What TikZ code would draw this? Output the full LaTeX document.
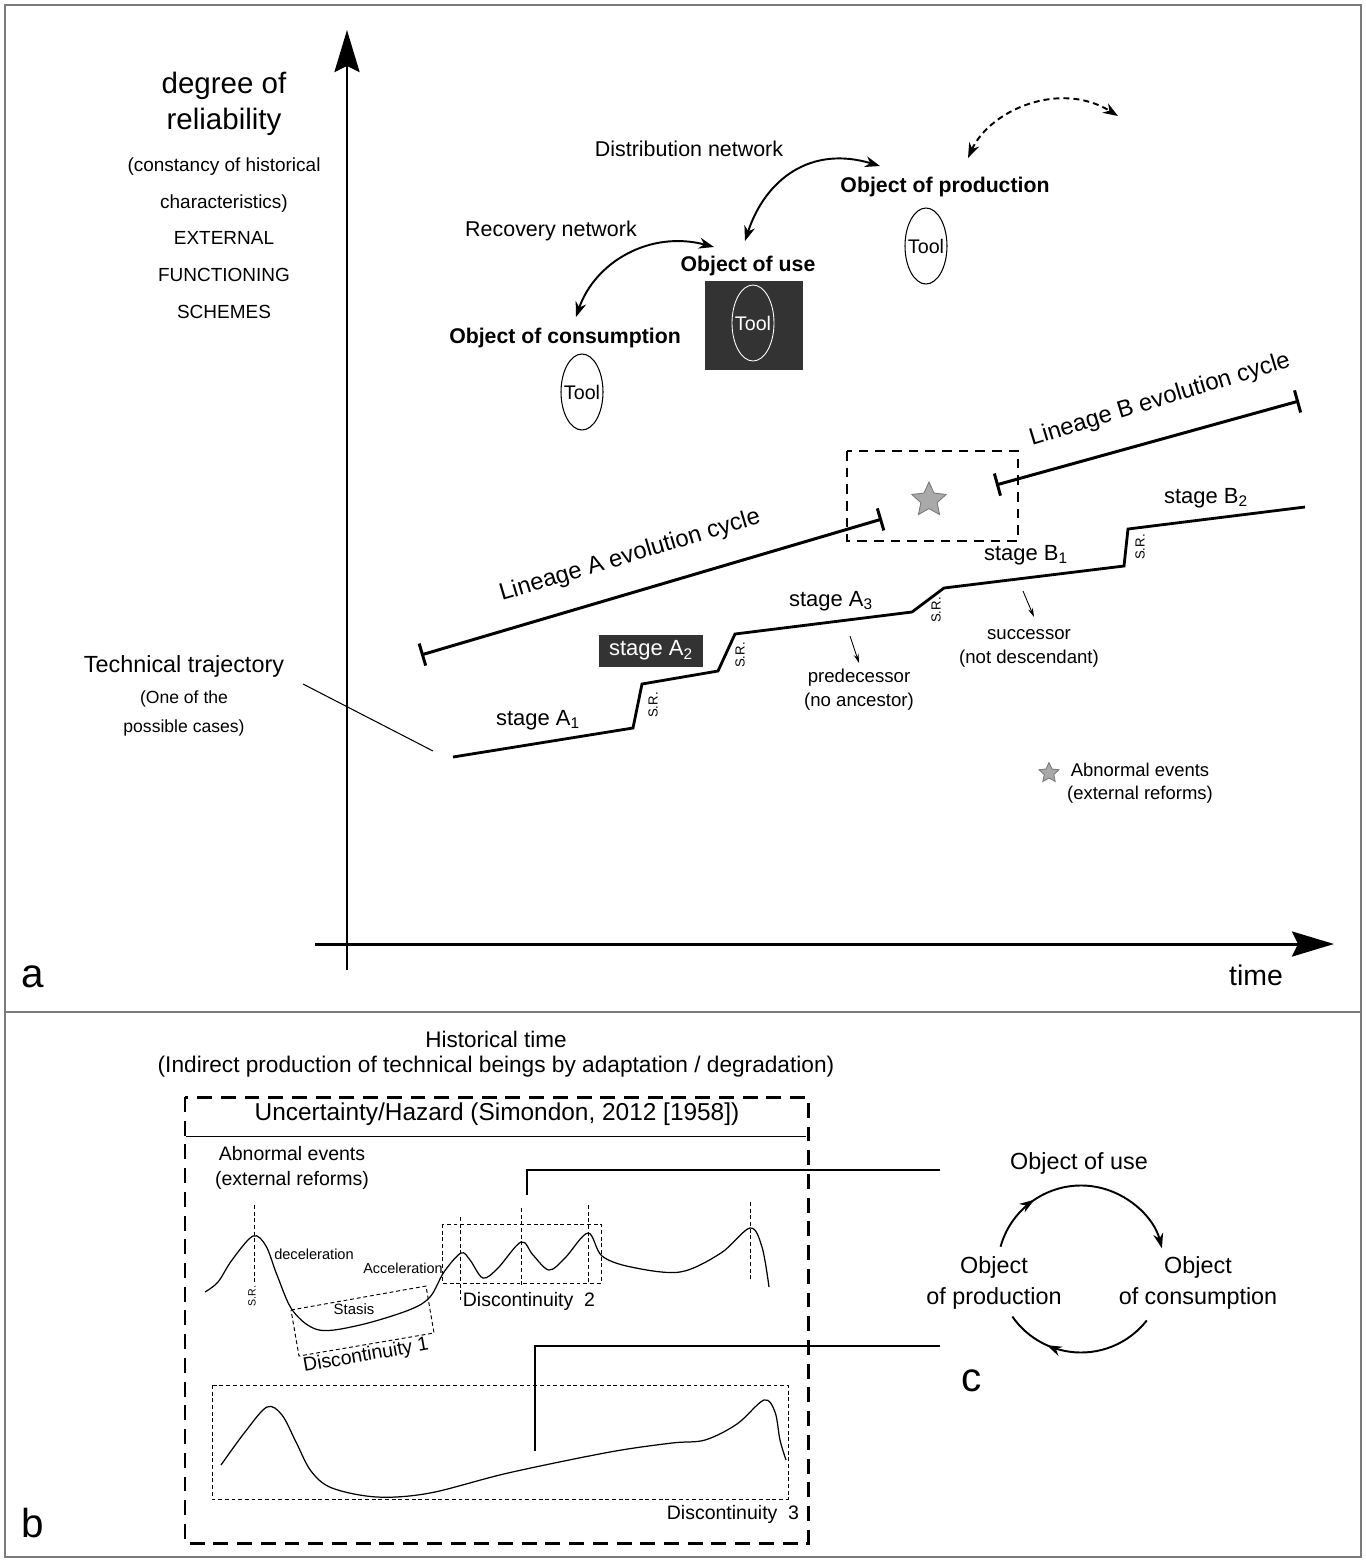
\documentclass[tikz,border=0pt]{standalone}
\usepackage{fontspec}
\setmainfont{Liberation Sans}
\usetikzlibrary{arrows.meta,shapes.geometric,decorations.markings,calc}
\definecolor{boxdark}{HTML}{333333}
\definecolor{framegray}{HTML}{7A7A7A}
\definecolor{starfill}{HTML}{A9A9A9}
\definecolor{starline}{HTML}{7A7A7A}
\newcommand{\fsz}[2]{\fontsize{#1}{#2}\selectfont}
\begin{document}
\begin{tikzpicture}[x=0.02cm, y=-0.02cm,
  txt/.style={inner sep=0pt, align=center},
  boldtxt/.style={txt, font=\fsz{12.1pt}{14pt}\bfseries},
  nettxt/.style={txt, font=\fsz{12.2pt}{14pt}},
  tool/.style={ellipse, draw, line width=0.6pt, minimum width=0.84cm, minimum height=1.52cm, inner sep=0pt, font=\fsz{11.2pt}{13pt}},
  axis/.style={line width=1.7pt, -{Stealth[length=0.84cm, width=0.5cm, inset=0.12cm]}},
  netarrow/.style={line width=1.1pt, {Stealth[length=0.3cm,width=0.22cm]}-{Stealth[length=0.3cm,width=0.22cm]}},
  traj/.style={line width=1.6pt, line join=miter},
  lineage/.style={line width=1.7pt, {Bar[width=0.46cm]}-{Bar[width=0.46cm]}},
  lintxt/.style={txt, font=\fsz{13.6pt}{16pt}},
  srlabel/.style={txt, rotate=90, font=\fsz{7.5pt}{9pt}},
  stagelbl/.style={txt, font=\fsz{12.5pt}{15pt}},
  smalltxt/.style={txt, font=\fsz{10.6pt}{13.6pt}},
  thinarrow/.style={line width=0.5pt, -{Stealth[length=0.18cm,width=0.1cm]}},
  evstar/.style={star, star points=5, star point ratio=2.1, draw=starline, fill=starfill, line width=0.5pt, inner sep=0pt, minimum size=0.72cm},
  curve/.style={line width=0.7pt},
  finedash/.style={line width=0.55pt, dash pattern=on 2.2pt off 1.6pt},
  bigdash/.style={line width=1.7pt, dash pattern=on 8.5pt off 5pt},
  cyc/.style={line width=1.1pt},
  cyctxt/.style={txt, font=\fsz{13.3pt}{17.6pt}},
  paneltxt/.style={txt, font=\fsz{23pt}{26pt}},
]
\useasboundingbox (0,0) rectangle (1366,1563);
% frame
\draw[framegray, line width=1.1pt] (5,5) rectangle (1361,1557);
\draw[framegray, line width=1.1pt] (5,1012) -- (1361,1012);

% ================= panel a =================
\coordinate (yb) at (347,970);
\coordinate (yt) at (347,30);
\coordinate (xl) at (315,944);
\coordinate (xr) at (1334,944);
\draw[axis] (yb) -- (yt);
\draw[axis] (xl) -- (xr);
\node[txt, font=\fsz{16.2pt}{19pt}] (time) at (1256,975) {time};
\node[paneltxt] (pa) at (33,977) {a};

\node[txt, font=\fsz{16.8pt}{20.5pt}] (deg) at (224,104) {degree of\\reliability};
\node[txt, font=\fsz{10.8pt}{20.9pt}] (const) at (224,238) {(constancy of historical\\characteristics)\\EXTERNAL\\FUNCTIONING\\SCHEMES};

% objects
\node[nettxt] (distnet) at (689,149) {Distribution network};
\node[boldtxt] (prod) at (945,187) {Object of production};
\node[tool] (toolP) at (926,246) {\makebox[0pt]{Tool}};
\node[nettxt] (recnet) at (551,231) {Recovery network};
\node[boldtxt] (use) at (748,266) {Object of use};
\node[fill=boxdark, minimum width=1.96cm, minimum height=1.78cm, inner sep=0pt] (usebox) at (754,325.5) {};
\node[tool, draw=white, text=white, line width=0.5pt] (toolU) at (753,323) {\makebox[0pt]{Tool}};
\node[boldtxt] (cons) at (565,338) {Object of consumption};
\node[tool] (toolC) at (582,392) {\makebox[0pt]{Tool}};

\coordinate (dn1) at (745,241);
\coordinate (dn2) at (880,166);
\draw[netarrow] (dn1) .. controls (765,180) and (810,145) .. (dn2);
\coordinate (rn1) at (576,317);
\coordinate (rn2) at (714,247);
\draw[netarrow] (rn1) .. controls (595,262) and (650,230) .. (rn2);
\coordinate (ds1) at (968,158);
\coordinate (ds2) at (1118,116);
\draw[netarrow, dash pattern=on 3.4pt off 2.3pt] (ds1) .. controls (990,110) and (1060,80) .. (ds2);

% lineages
\coordinate (la1) at (421,655);
\coordinate (la2) at (882,519);
\draw[lineage] (la1) -- (la2);
\node[lintxt, rotate=16.7] (linA) at (630,556) {Lineage A evolution cycle};
\coordinate (lb1) at (996,485);
\coordinate (lb2) at (1299,401);
\draw[lineage] (lb1) -- (lb2);
\node[lintxt, rotate=17] (linB) at (1160,400) {Lineage B evolution cycle};

\draw[line width=1.4pt, dash pattern=on 5.5pt off 4pt] (847,451) rectangle (1018,541);
\node[evstar] (star) at (929,500) {};

% trajectory
\draw[traj] (453,757) -- (633,728) -- (642,684) -- (718,671) -- (735,634) -- (912,612) -- (944,588) -- (1124,566) -- (1128,529) -- (1305,507);

\node[stagelbl] (sA1) at (538,720) {stage A\textsubscript{1}};
\node[srlabel] (sr1) at (653,705) {S.R.};
\node[stagelbl, fill=boxdark, text=white, minimum width=2.1cm, minimum height=0.64cm] (sA2) at (651,650.5) {stage A\textsubscript{2}};
\node[srlabel] (sr2) at (740,655) {S.R.};
\node[stagelbl] (sA3) at (831,601) {stage A\textsubscript{3}};
\node[srlabel] (sr3) at (936,610) {S.R.};
\node[stagelbl] (sB1) at (1026,555) {stage B\textsubscript{1}};
\node[srlabel] (sr4) at (1140,547) {S.R.};
\node[stagelbl] (sB2) at (1206,498) {stage B\textsubscript{2}};

\coordinate (pr1) at (850,636);
\coordinate (pr2) at (859,663);
\draw[thinarrow] (pr1) -- (pr2);
\node[smalltxt] (pred) at (859,690) {predecessor\\(no ancestor)};
\coordinate (su1) at (1023,591);
\coordinate (su2) at (1034,617);
\draw[thinarrow] (su1) -- (su2);
\node[smalltxt] (succ) at (1029,648) {successor\\(not descendant)};

\node[txt, font=\fsz{13.3pt}{16pt}] (techtraj) at (184,666) {Technical trajectory};
\node[txt, font=\fsz{10pt}{16.5pt}] (onecase) at (184,713) {(One of the\\possible cases)};
\coordinate (tp1) at (303,684);
\coordinate (tp2) at (433,751);
\draw[line width=0.6pt] (tp1) -- (tp2);

\node[evstar, minimum size=0.42cm] (legstar) at (1049,773) {};
\node[txt, font=\fsz{10.5pt}{13pt}] (legtxt) at (1140,783) {Abnormal events\\(external reforms)};

% ================= panel b =================
\node[txt, font=\fsz{12.8pt}{15pt}] (histtime) at (496,1039) {Historical time};
\node[txt, font=\fsz{12.9pt}{15pt}] (indirect) at (496,1067) {(Indirect production of technical beings by adaptation / degradation)};
\draw[bigdash] (185,1097) rectangle (808,1543);
\node[txt, font=\fsz{13.9pt}{16pt}] (unc) at (497,1114) {Uncertainty/Hazard (Simondon, 2012 [1958])};
\coordinate (ul1) at (186,1136.5);
\coordinate (ul2) at (806,1136.5);
\draw[line width=0.8pt] (ul1) -- (ul2);
\node[txt, font=\fsz{11.1pt}{13.8pt}] (abn) at (292,1168) {Abnormal events\\(external reforms)};

% curve 1
\draw[curve] plot[smooth, tension=0.55] coordinates {(205,1292) (218,1282) (232,1260) (253,1236) (266,1246) (277,1275) (293,1311) (319,1330) (360,1325) (409,1310) (430,1297) (444,1272) (461,1253) (470,1260) (483,1278) (498,1268) (521,1242) (533,1255) (549,1270) (565,1258) (588,1233) (602,1256) (631,1267) (680,1272) (721,1253) (750,1228) (762,1247) (769,1287)};
% vertical markers
\draw[finedash] (254,1205) -- (254,1284);
\node[srlabel, font=\fsz{6pt}{7pt}] (srb) at (252,1296) {S.R.};
\draw[finedash] (460,1217) -- (460,1300);
\draw[finedash] (521,1208) -- (521,1285);
\draw[finedash] (588,1205) -- (588,1283);
\draw[finedash] (750,1202) -- (750,1280);
% discontinuity boxes
\draw[finedash] (442,1224) rectangle (601,1283);
\draw[finedash] (291,1310) -- (426,1286) -- (434,1333) -- (299,1356) -- cycle;
\draw[finedash] (212,1385) rectangle (788,1499);
\node[txt, font=\fsz{8.3pt}{10pt}] (decel) at (314,1254) {deceleration};
\node[txt, font=\fsz{8.2pt}{10pt}] (accel) at (403,1268) {Acceleration};
\node[txt, font=\fsz{8.5pt}{10pt}] (stasis) at (354,1309) {Stasis};
\node[txt, font=\fsz{11.1pt}{13pt}, rotate=10] (disc1) at (366,1356) {Discontinuity 1};
\node[txt, font=\fsz{11.1pt}{13pt}] (disc2) at (529,1301) {Discontinuity~~2};
\node[txt, font=\fsz{11.1pt}{13pt}] (disc3) at (733,1514) {Discontinuity~~3};
% curve 2
\draw[curve] plot[smooth, tension=0.55] coordinates {(221,1465) (245,1432) (267,1407) (282,1415) (296,1442) (311,1471) (332,1488) (377,1497) (430,1493) (508,1473) (610,1452) (672,1443) (705,1440) (737,1424) (764,1400) (775,1412) (780,1440) (786,1460)};
% brackets to panel c
\coordinate (k1a) at (527,1195);
\coordinate (k1b) at (527,1170);
\coordinate (k1c) at (940,1170);
\draw[line width=0.8pt] (k1a) -- (k1b) -- (k1c);
\coordinate (k2a) at (535,1451);
\coordinate (k2b) at (535,1346);
\coordinate (k2c) at (940,1346);
\draw[line width=0.8pt] (k2a) -- (k2b) -- (k2c);
\node[paneltxt] (pb) at (33,1523) {b};

% ================= panel c =================
\node[cyctxt] (cuse) at (1079,1163) {Object of use};
\node[cyctxt] (cprod) at (994,1283) {Object\\of production};
\node[cyctxt] (ccons) at (1198,1283) {Object\\of consumption};
\coordinate (cc) at (1081,1269);
\coordinate (ct1) at ($(cc)+(-164.5:83.5)$);
\coordinate (cb1) at ($(cc)+(38:83.5)$);
\draw[cyc, -{Stealth[length=0.3cm,width=0.2cm]},
  decoration={markings, mark=at position 0.27 with {\arrow{Stealth[length=0.3cm,width=0.2cm]}}}, postaction={decorate}]
  (ct1) arc[start angle=-164.5, end angle=-14.3, radius=83.5];
\draw[cyc,
  decoration={markings, mark=at position 0.71 with {\arrow{Stealth[length=0.3cm,width=0.2cm]}}}, postaction={decorate}]
  (cb1) arc[start angle=38, end angle=145.3, radius=83.5];
\node[paneltxt] (pc) at (972,1381) {c};
\end{tikzpicture}
\end{document}
